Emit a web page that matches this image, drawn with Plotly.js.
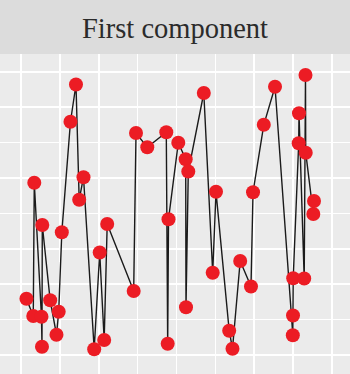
<!DOCTYPE html>
<html>
<head>
<meta charset="utf-8">
<script src="https://cdn.plot.ly/plotly-3.0.1.min.js"></script>
<style>html,body{margin:0;padding:0;background:#dcdcdc;}#chart{width:350px;height:374px;}</style>
</head>
<body>
<div id="chart"></div>
<script>
// Series: first component (x = position, y = value)
var xValues = [0.14, 0.316, 0.342, 0.527, 0.540, 0.548, 0.751, 0.913, 0.970, 1.050,
  1.273, 1.415, 1.497, 1.608, 1.883, 2.025, 2.140, 2.218, 2.899, 2.959,
  3.249, 3.738, 3.774, 3.795, 4.047, 4.237, 4.245, 4.304, 4.703, 4.932,
  5.017, 5.356, 5.441, 5.639, 5.917, 5.969, 6.246, 6.535, 6.993, 6.998,
  7.003, 7.144, 7.152, 7.286, 7.319, 7.325, 7.520, 7.538];
var yValues = [1.590, 1.102, 4.867, 1.082, 0.234, 3.672, 1.545, 0.573, 1.223, 3.466,
  6.590, 7.641, 4.384, 5.023, 0.164, 2.895, 0.424, 3.701, 1.808, 6.271,
  5.867, 6.291, 0.319, 3.836, 5.997, 5.531, 1.347, 5.184, 7.401, 2.325,
  4.610, 0.686, 0.178, 2.655, 1.935, 4.599, 6.503, 7.579, 0.559, 1.116,
  2.167, 5.980, 6.828, 2.161, 7.910, 5.715, 3.983, 4.350];
var panelTitle = 'First component';

var lineTrace = {
  x: xValues, y: yValues, type: 'scatter', mode: 'lines',
  line: {color: '#1a1a1a', width: 1.4}, hoverinfo: 'skip', showlegend: false
};
var pointTrace = {
  x: xValues, y: yValues, type: 'scatter', mode: 'markers',
  marker: {color: '#ec1c24', size: 14, line: {width: 0}}, showlegend: false
};

var layout = {
  width: 350, height: 374,
  margin: {l: 0, r: 0, t: 54, b: 0, pad: 0},
  paper_bgcolor: '#dcdcdc',
  plot_bgcolor: '#ebebeb',
  title: {
    text: panelTitle, x: 0.5, xanchor: 'center', y: 0.925, yref: 'container', yanchor: 'middle',
    font: {family: 'Liberation Serif, DejaVu Serif, serif', size: 28.5, color: '#2b2b2b'}
  },
  xaxis: {
    range: [-0.540, 8.464], dtick: 1, tick0: 0, showgrid: true, gridcolor: '#ffffff', gridwidth: 1.6,
    zeroline: false, showticklabels: false, ticks: '', showline: false, fixedrange: true
  },
  yaxis: {
    range: [-0.537, 8.503], dtick: 1, tick0: 0, showgrid: true, gridcolor: '#ffffff', gridwidth: 1.6,
    zeroline: false, showticklabels: false, ticks: '', showline: false, fixedrange: true
  },
  showlegend: false
};

Plotly.newPlot('chart', [lineTrace, pointTrace], layout, {staticPlot: true, displayModeBar: false});
</script>
</body>
</html>
